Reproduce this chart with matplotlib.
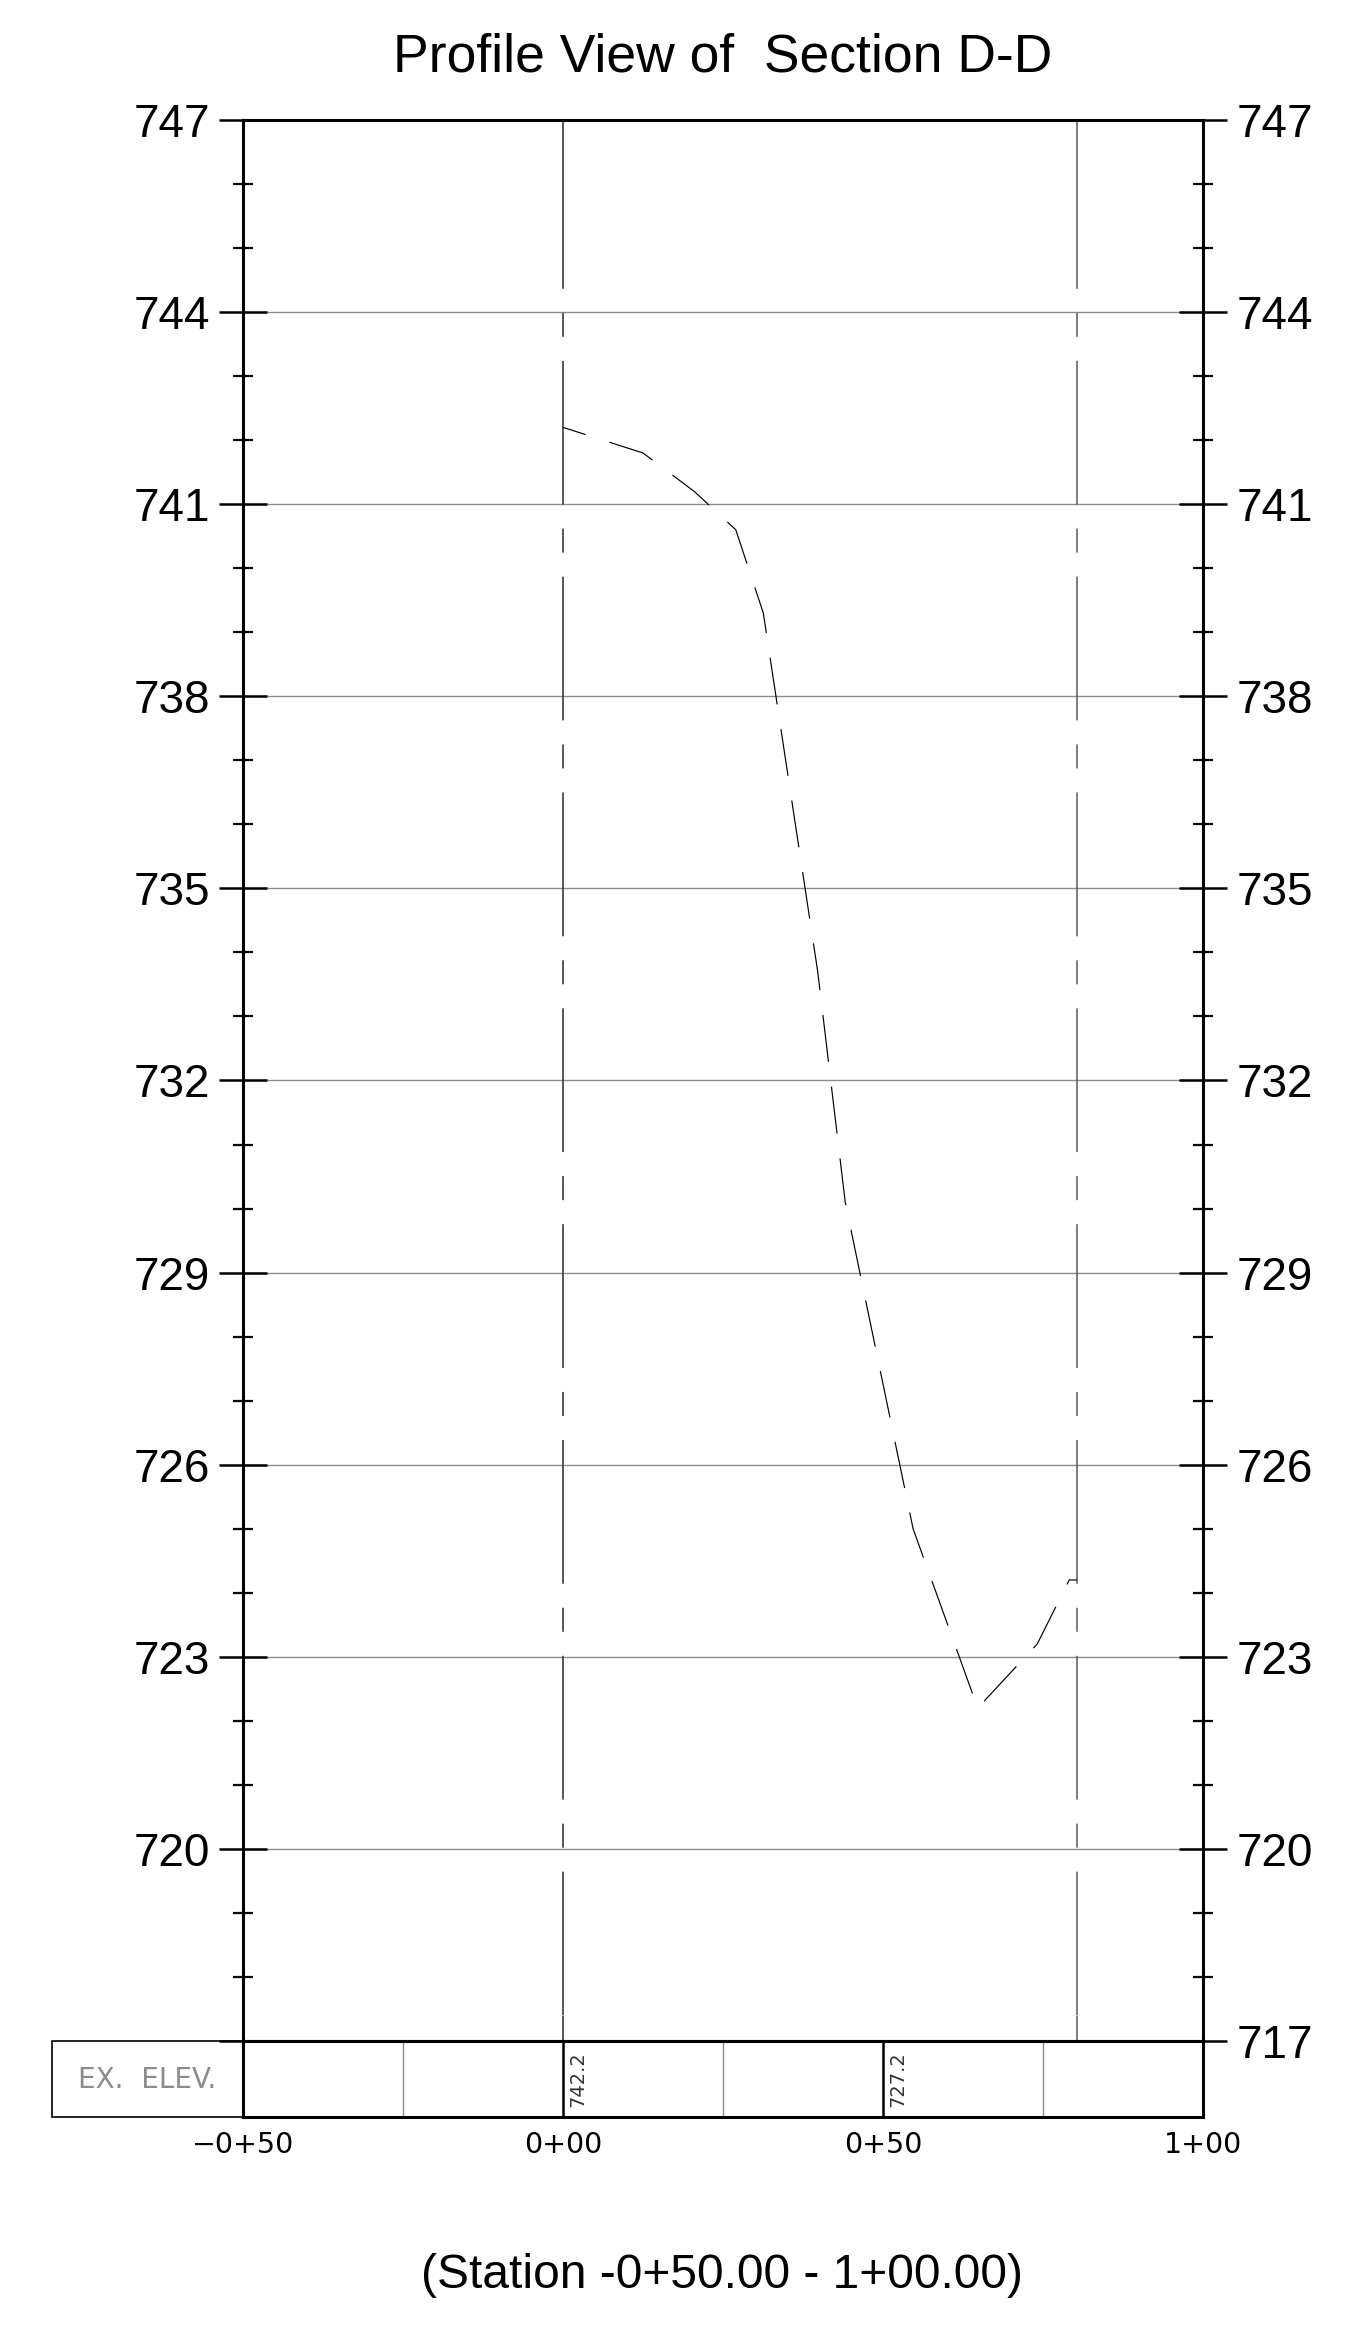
#!/usr/bin/env python3
"""Profile view of Section D-D: existing ground elevation along the station line."""

import matplotlib
matplotlib.use('Agg')
import matplotlib.pyplot as plt
from matplotlib.patches import Rectangle

plt.rcParams['lines.scale_dashes'] = False

# Existing ground profile (station in ft, elevation in ft)
stations = [0.0, 12.5, 20.5, 27.0, 31.3, 39.8, 44.1, 54.7, 64.8, 74.1, 79.1, 80.3]
elevations = [742.2, 741.8, 741.2, 740.6, 739.3, 733.7, 730.1, 725.0, 722.2, 723.2, 724.2, 724.2]

# Section limit lines
section_limits = [0.0, 80.3]
section_colors = ['#2a2a2a', '#5a5a5a']

# Axis setup
elev_ticks = [717, 720, 723, 726, 729, 732, 735, 738, 741, 744, 747]
station_ticks = [-50, 0, 50, 100]
station_labels = ['\u22120+50', '0+00', '0+50', '1+00']

# Table row "EX. ELEV."
table_stations = [0, 50]
table_values = ['742.2', '727.2']
table_minor = [-25, 25, 75]

W, H = 1349, 2330
fig = plt.figure(figsize=(W / 100, H / 100), dpi=100)

ax_left, ax_right = 243, 1203
ax_top, ax_bot = 120, 2041
tb_bot = 2117

ax = fig.add_axes([ax_left / W, 1 - ax_bot / H, (ax_right - ax_left) / W, (ax_bot - ax_top) / H])
tb = fig.add_axes([ax_left / W, 1 - tb_bot / H, (ax_right - ax_left) / W, (tb_bot - ax_bot) / H],
                  sharex=ax)

ax.set_xlim(-50, 100)
ax.set_ylim(717, 747)

# grid lines at major elevations
for e in elev_ticks[1:-1]:
    ax.axhline(e, color='#8c8c8c', lw=1.0, zorder=1)

# section limit lines, center-line pattern
e_pad = 25 / 64.0
for s, c in zip(section_limits, section_colors):
    ax.plot([s, s], [747, 747 - e_pad], color=c, lw=1.1, solid_capstyle='butt', zorder=2)
    ax.plot([s, s], [717 + e_pad, 717], color=c, lw=1.1, solid_capstyle='butt', zorder=2)
    ax.plot([s, s], [747 - e_pad, 717 + e_pad], color=c, lw=1.1,
            linestyle=(0, (103.5, 17.3, 17.3, 17.3)), dash_capstyle='butt', zorder=2)

# ground profile
ax.plot(stations, elevations, color='black', lw=0.85,
        linestyle=(17, (34, 18)), dash_capstyle='butt', zorder=3)

# y axis ticks on both sides
ax.set_yticks(elev_ticks)
ax.set_yticks(range(717, 748), minor=True)
ax.set_yticklabels([str(v) for v in elev_ticks], fontsize=33, family='Liberation Sans')
ax.tick_params(axis='y', which='both', direction='inout', left=True, right=True,
               labelleft=True, labelright=True, color='black')
ax.tick_params(axis='y', which='major', length=35, width=1.8, pad=6.5)
ax.tick_params(axis='y', which='minor', length=15, width=1.6)
ax.yaxis.get_major_ticks()[0].label1.set_visible(False)
ax.tick_params(axis='x', which='both', bottom=False, labelbottom=False)
for sp in ax.spines.values():
    sp.set_linewidth(2.2)
    sp.set_color('black')

# table row
tb.set_ylim(0, 1)
for s in table_minor:
    tb.axvline(s, color='#8c8c8c', lw=1.0)
for s in table_stations:
    tb.axvline(s, color='black', lw=1.8)
for s, v in zip(table_stations, table_values):
    tb.annotate(v, xy=(s, 0.5), xycoords=('data', 'axes fraction'), xytext=(4, 0),
                textcoords='offset points', rotation=90, ha='left', va='center',
                fontsize=14, color='#333333', family='DejaVu Sans')
tb.set_yticks([])
tb.set_xticks(station_ticks)
tb.set_xticklabels(station_labels, fontsize=20.5, family='DejaVu Sans')
tb.tick_params(axis='x', length=0, pad=10)
for sp in tb.spines.values():
    sp.set_linewidth(2.2)
    sp.set_color('black')

# label box on the left of the table
fig.patches.append(Rectangle((52 / W, 1 - tb_bot / H), (ax_left - 52) / W, (tb_bot - ax_bot) / H,
                             transform=fig.transFigure, fill=False, lw=1.2, ec='black'))
fig.text(147 / W, 1 - 2080 / H, 'EX.  ELEV.', ha='center', va='center',
         fontsize=20, color='#8c8c8c', family='DejaVu Sans')

# titles
fig.text(723 / W, 1 - 72 / H, 'Profile View of  Section D-D', ha='center', va='baseline',
         fontsize=38.5, family='Liberation Sans')
fig.text(722 / W, 1 - 2288 / H, '(Station -0+50.00 - 1+00.00)', ha='center', va='baseline',
         fontsize=34.5, family='Liberation Sans')

fig.savefig('out.png', dpi=100)
